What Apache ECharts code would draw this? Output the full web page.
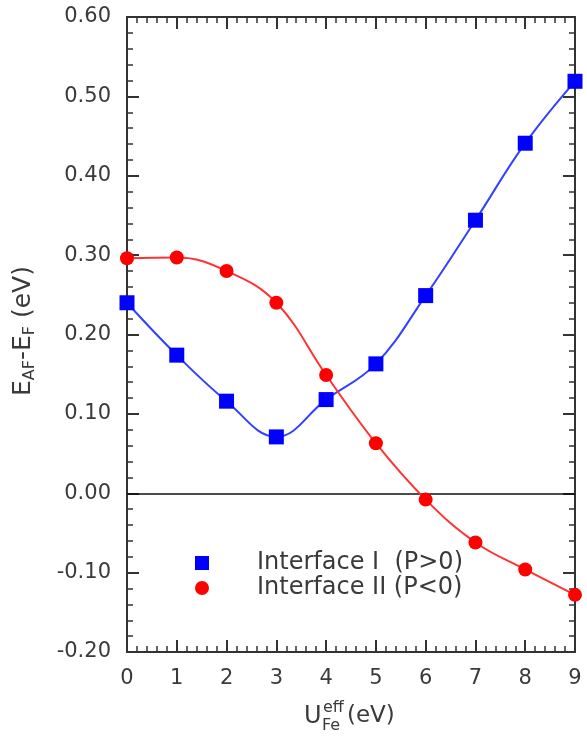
<!DOCTYPE html>
<html>
<head>
<meta charset="utf-8">
<script src="https://cdn.jsdelivr.net/npm/echarts@6/dist/echarts.min.js"></script>
<style>
  html, body { margin: 0; padding: 0; background: #fff; }
  #chart { width: 587px; height: 738px; }
</style>
</head>
<body>
<div id="chart"></div>
<script>
// U_eff on Fe (eV)
const uEff = [0, 1, 2, 3, 4, 5, 6, 7, 8, 9];
// E_AF - E_F (eV) for each interface
const interfaceI = [0.240, 0.174, 0.116, 0.071, 0.118, 0.163, 0.249, 0.344, 0.441, 0.519];
const interfaceII = [0.296, 0.297, 0.280, 0.240, 0.149, 0.063, -0.008, -0.062, -0.096, -0.128];
const seriesNames = ['Interface I  (P>0)', 'Interface II (P<0)'];

const FONT = '"DejaVu Sans", "Open Sans", sans-serif';
const AXIS_COLOR = '#333';
const TEXT_COLOR = '#3a3a3a';

const pairs = (ys) => uEff.map((x, i) => [x, ys[i]]);

// Framed axes: every side carries inward major and minor ticks.
function makeAxis(kind, position, withLabels) {
  const range = kind === 'x'
    ? { min: 0, max: 9, interval: 1 }
    : { min: -0.2, max: 0.6, interval: 0.1 };
  const label = withLabels
    ? {
        show: true, margin: 16, fontSize: 21, color: TEXT_COLOR, fontFamily: FONT,
        formatter: kind === 'y' ? (v) => v.toFixed(2) : (v) => String(v)
      }
    : { show: false };
  return {
    type: 'value',
    position: position,
    min: range.min,
    max: range.max,
    interval: range.interval,
    axisLine: { show: true, onZero: false, lineStyle: { color: AXIS_COLOR, width: 2 } },
    axisTick: { show: true, inside: true, length: 12, lineStyle: { color: AXIS_COLOR, width: 2 } },
    minorTick: { show: true, splitNumber: 5, length: 6, lineStyle: { color: AXIS_COLOR, width: 1.5 } },
    splitLine: { show: false },
    minorSplitLine: { show: false },
    axisLabel: label
  };
}

const chart = echarts.init(document.getElementById('chart'), null, { renderer: 'canvas' });

chart.setOption({
  animation: false,
  backgroundColor: '#fff',
  textStyle: { fontFamily: FONT },
  grid: { left: 127, right: 12, top: 17, bottom: 86, containLabel: false },
  xAxis: [makeAxis('x', 'bottom', true), makeAxis('x', 'top', false)],
  yAxis: [makeAxis('y', 'left', true), makeAxis('y', 'right', false)],
  legend: {
    orient: 'vertical',
    left: 190,
    top: 546,
    itemWidth: 14,
    itemHeight: 14,
    itemGap: 1,
    textStyle: {
      fontSize: 24, lineHeight: 24, color: TEXT_COLOR, fontFamily: FONT,
      padding: [0, 0, 0, 43]
    },
    data: [
      { name: seriesNames[0], icon: 'rect', itemStyle: { color: '#0000ff' } },
      { name: seriesNames[1], icon: 'circle', itemStyle: { color: '#ff0000' } }
    ]
  },
  graphic: [
    {
      type: 'text',
      x: 23, y: 331,
      rotation: Math.PI / 2,
      style: {
        text: '{m|E}{s|AF}{m|-E}{s|F}{m| (eV)}',
        align: 'center', verticalAlign: 'middle',
        fill: TEXT_COLOR, fontFamily: FONT,
        rich: {
          m: { fontSize: 25, lineHeight: 30, fill: TEXT_COLOR, fontFamily: FONT },
          s: { fontSize: 16, lineHeight: 16, verticalAlign: 'bottom', fill: TEXT_COLOR, fontFamily: FONT }
        }
      }
    },
    {
      type: 'group',
      children: [
        { type: 'text', x: 304, y: 717, style: { text: 'U', fontSize: 24, fontFamily: FONT, fill: TEXT_COLOR, verticalAlign: 'middle' } },
        { type: 'text', x: 323, y: 708, style: { text: 'eff', fontSize: 16, fontFamily: FONT, fill: TEXT_COLOR, verticalAlign: 'middle' } },
        { type: 'text', x: 322, y: 726, style: { text: 'Fe', fontSize: 16, fontFamily: FONT, fill: TEXT_COLOR, verticalAlign: 'middle' } },
        { type: 'text', x: 347, y: 716, style: { text: '(eV)', fontSize: 23, fontFamily: FONT, fill: TEXT_COLOR, verticalAlign: 'middle' } }
      ]
    }
  ],
  series: [
    {
      name: seriesNames[0],
      type: 'line',
      data: pairs(interfaceI),
      smooth: 0.4,
      clip: false,
      symbol: 'rect',
      symbolSize: 15,
      itemStyle: { color: '#0000ff' },
      lineStyle: { color: '#3340ff', width: 2 },
      z: 3,
      markLine: {
        silent: true,
        symbol: 'none',
        label: { show: false },
        lineStyle: { color: '#111', width: 1.5, type: 'solid' },
        data: [{ yAxis: 0 }],
        z: 1
      }
    },
    {
      name: seriesNames[1],
      type: 'line',
      data: pairs(interfaceII),
      smooth: 0.4,
      clip: false,
      symbol: 'circle',
      symbolSize: 14,
      itemStyle: { color: '#ff0000' },
      lineStyle: { color: '#ff3333', width: 2 },
      z: 4
    }
  ]
});
</script>
</body>
</html>
